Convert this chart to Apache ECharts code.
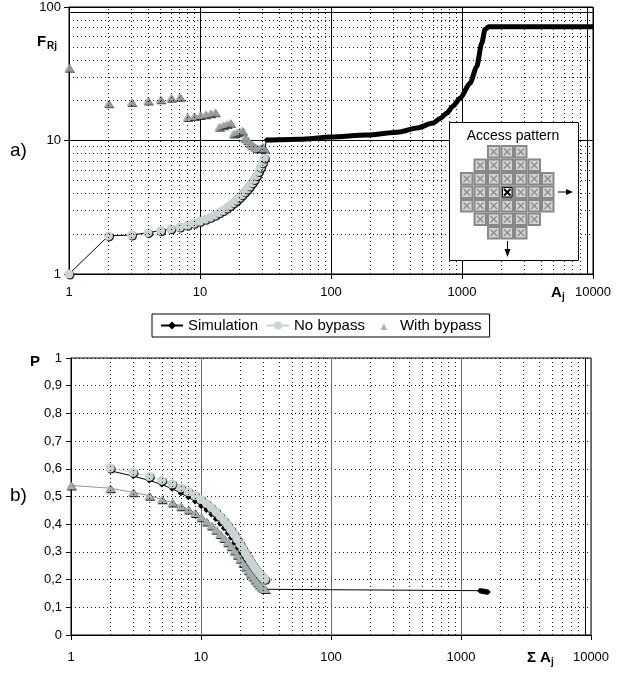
<!DOCTYPE html>
<html><head><meta charset="utf-8">
<script src="https://cdn.jsdelivr.net/npm/echarts@6/dist/echarts.min.js"></script>
<style>html,body{margin:0;padding:0;background:#fff}#c{width:619px;height:673px}</style>
</head><body><div id="c"></div>
<script>
// ---------- data ----------
const jIdx = [1,2,3,4,5,6,7,8,9,10,11,12,13,14,15,16,17,18,19,20,21,22,23,24,25,26,27,28,29,30,31];
// top chart: F_Rj vs A_j
const frSimLow = [1,1.93,1.96,2.04,2.11,2.18,2.25,2.32,2.4,2.5,2.61,2.72,2.84,2.97,3.11,3.26,3.42,3.59,3.77,3.96,4.17,4.39,4.63,4.89,5.17,5.48,5.83,6.23,6.7,7.2,7.8];
const aSimHigh = [32,40,58,100,187,336,450,600,680,764,850,966,1151,1295,1414,1500,1600,3000,10000];
const frSimHigh = [10.1,10.15,10.2,10.6,11.0,11.6,12.4,13.5,14.6,16.0,18.0,20.7,26.8,35.7,53.5,68,71,71,71];
const frNoBypass = [1,1.93,1.96,2.04,2.11,2.18,2.25,2.32,2.4,2.48,2.57,2.66,2.76,2.87,2.99,3.12,3.26,3.41,3.57,3.74,3.92,4.12,4.33,4.56,4.81,5.1,5.45,5.85,6.3,6.8,7.4];
const frWithBypass = [35,19.0,19.4,19.9,20.4,20.9,21.3,15.0,15.25,15.5,15.75,16.0,16.3,12.7,13.0,13.3,13.6,11.3,11.5,11.7,11.9,10.5,10.1,9.6,9.25,9.0,8.8,8.7,8.8,9.0,8.7];
// bottom chart: P vs sum A_j
const sumASim = [2,3,4,5,6,7,8,9,10,11,12,13,14,15,16,17,18,19,20,21,22,23,24,25,26,27,28,29,30,31,1400,1430,1460,1490,1520,1550,1580,1610];
const pSim = [0.593,0.574,0.558,0.543,0.528,0.512,0.497,0.482,0.466,0.451,0.435,0.419,0.402,0.385,0.368,0.351,0.333,0.315,0.297,0.28,0.263,0.247,0.232,0.218,0.205,0.194,0.185,0.177,0.17,0.165,0.160,0.159,0.158,0.157,0.157,0.156,0.155,0.155];
const sumANoBypass = [2,3,4,5,6,7,8,9,10,11,12,13,14,15,16,17,18,19,20,21,22,23,24,25,26,27,28,29,30,31];
const pNoBypass = [0.603,0.587,0.572,0.558,0.545,0.531,0.517,0.503,0.489,0.475,0.46,0.445,0.429,0.413,0.397,0.38,0.363,0.346,0.328,0.311,0.295,0.28,0.266,0.253,0.241,0.231,0.222,0.214,0.207,0.201];
const pWithBypass = [0.54,0.53,0.515,0.503,0.49,0.478,0.465,0.453,0.44,0.425,0.41,0.395,0.38,0.365,0.35,0.335,0.32,0.305,0.29,0.275,0.26,0.247,0.234,0.222,0.211,0.2,0.19,0.182,0.175,0.17,0.166];
const xTickLabels = ['1','10','100','1000','10000'];
const topYTickLabels = ['1','10','100'];
// dotted minor gridlines
const minorX = [2,3,4,5,6,7,8,9,20,30,40,50,60,70,80,90,200,300,400,500,600,700,800,900,2000,3000,4000,5000,6000,7000,8000];
const minorYTop = [2,3,4,5,6,7,8,9,20,30,40,50,60,70,80];
const extraTopY = 92, extraRightX = 9000;
// access pattern inset: [first col, last col] per row
const insetRows = [[2,4],[1,5],[0,6],[0,6],[0,6],[1,5],[2,4]];
const insetCenter = [3,3];

const zip = (xs, ys) => xs.map((x,i)=>[x, ys[i]]);
const FONT = 'Liberation Sans, Arial, sans-serif';
const dottedStyle = {color:'#000', width:1, type:[1,3], opacity:0.9};
const solidStyle = {color:'#000', width:1, type:'solid'};

function logAxis(gi, labelMargin){
  return {
    type:'log', logBase:10, min:1, max:10000, gridIndex:gi,
    axisLine:{show:true, onZero:false, lineStyle:{color:'#000', width:1}},
    axisTick:{show:true, inside:false, length:5, lineStyle:{color:'#000'}},
    axisLabel:{color:'#000', fontFamily:FONT, fontSize:13, margin:labelMargin,
      formatter:v=>{const i=Math.round(Math.log10(v)); return xTickLabels[i]||'';}},
    splitLine:{show:true, lineStyle:{color:gi===0?'#000':'#666', width:1}},
    minorTick:{show:false}, minorSplitLine:{show:false}
  };
}

const shadowItem = (c)=>({color:c, shadowColor:'rgba(0,0,0,0.85)', shadowOffsetX:1, shadowOffsetY:1, shadowBlur:0});

// inset graphic
const ZI = 200;
const insetEls = [];
const cs = 13.5, ix0 = 460, iy0 = 145;
insetEls.push({type:'rect', z:ZI, shape:{x:449.5,y:122.5,width:129,height:138}, style:{fill:'#fff', stroke:'#000', lineWidth:1}});
insetEls.push({type:'text', z:ZI, style:{x:513, y:136, text:'Access pattern', fill:'#000', font:'14px '+FONT, align:'center', verticalAlign:'middle'}});
insetRows.forEach((r,ri)=>{
  for(let ci=r[0]; ci<=r[1]; ci++){
    const x = ix0+ci*cs, y = iy0+ri*cs;
    const isC = ri===insetCenter[0] && ci===insetCenter[1];
    insetEls.push({type:'rect', z:ZI, shape:{x:x,y:y,width:cs,height:cs}, style:{fill:'#888'}});
    insetEls.push({type:'rect', z:ZI, shape:{x:x+2,y:y+2,width:cs-4,height:cs-4}, style:{fill:isC?'#fff':'#d4d4d4', stroke:isC?'#000':null, lineWidth:1}});
    const sc = isC?'#000':'#8a8a8a', lw = isC?2:1.3;
    insetEls.push({type:'line', z:ZI, shape:{x1:x+3.5,y1:y+3.5,x2:x+cs-3.5,y2:y+cs-3.5}, style:{stroke:sc, lineWidth:lw}});
    insetEls.push({type:'line', z:ZI, shape:{x1:x+cs-3.5,y1:y+3.5,x2:x+3.5,y2:y+cs-3.5}, style:{stroke:sc, lineWidth:lw}});
  }
});
insetEls.push({type:'line', z:ZI, shape:{x1:558,y1:192,x2:569,y2:192}, style:{stroke:'#000', lineWidth:1}});
insetEls.push({type:'polygon', z:ZI, shape:{points:[[566,189],[573,192],[566,195]]}, style:{fill:'#000'}});
insetEls.push({type:'line', z:ZI, shape:{x1:507.5,y1:241,x2:507.5,y2:251}, style:{stroke:'#000', lineWidth:1}});
insetEls.push({type:'polygon', z:ZI, shape:{points:[[504.5,249],[507.5,257],[510.5,249]]}, style:{fill:'#000'}});

const txt = (x,y,t,size,bold,align)=>({type:'text', z:ZI, style:{x:x,y:y,text:t,fill:'#000', font:(bold?'bold ':'')+size+'px '+FONT, align:align||'left', verticalAlign:'middle'}});

const topGridLines = minorX.map(v=>({xAxis:v, lineStyle:dottedStyle}))
  .concat(minorYTop.map(v=>({yAxis:v, lineStyle:dottedStyle})))
  .concat([{yAxis:extraTopY, lineStyle:solidStyle},{xAxis:extraRightX, lineStyle:solidStyle}]);
const botGridLines = minorX.map(v=>({xAxis:v, lineStyle:dottedStyle}))
  .concat([{xAxis:extraRightX, lineStyle:solidStyle}]);

const smallTriangle = 'path://M0,0L0.01,0L0.01,0.01ZM22,10L22.01,10L22.01,9.99ZM11,3L14.5,9.5L7.5,9.5Z';

const chart = echarts.init(document.getElementById('c'), null, {renderer:'canvas'});
chart.setOption({
  animation:false,
  backgroundColor:'#fff',
  textStyle:{fontFamily:FONT},
  grid:[
    {left:69, right:26, top:7, height:267, show:true, borderColor:'#000', borderWidth:1, backgroundColor:'transparent'},
    {left:71, right:28, top:358, height:277, show:true, borderColor:'#000', borderWidth:1, backgroundColor:'transparent'}
  ],
  legend:{
    left:152, top:314, orient:'horizontal',
    data:['Simulation','No bypass',{name:'With bypass', icon:smallTriangle, itemStyle:{color:'#a9b4b4'}}],
    borderColor:'#000', borderWidth:1, padding:[4,8], itemGap:8, itemWidth:22, itemHeight:10,
    textStyle:{fontFamily:FONT, fontSize:15, color:'#000'}
  },
  xAxis:[ logAxis(0,12), logAxis(1,16) ],
  yAxis:[
    {type:'log', logBase:10, min:1, max:100, gridIndex:0,
      axisLine:{show:true, onZero:false, lineStyle:{color:'#000'}},
      axisTick:{show:true, length:5, lineStyle:{color:'#000'}},
      axisLabel:{color:'#000', fontFamily:FONT, fontSize:13, margin:8,
        formatter:v=>{const i=Math.round(Math.log10(v)); return topYTickLabels[i]||'';}},
      splitLine:{show:true, lineStyle:{color:'#000', width:1}},
      minorTick:{show:false}, minorSplitLine:{show:false}},
    {type:'value', min:0, max:1, interval:0.1, gridIndex:1,
      axisLine:{show:true, onZero:false, lineStyle:{color:'#000'}},
      axisTick:{show:true, length:5, lineStyle:{color:'#000'}},
      axisLabel:{color:'#000', fontFamily:FONT, fontSize:13, margin:9,
        formatter:v=>String(Math.round(v*10)/10).replace('.',',')},
      splitLine:{show:true, lineStyle:dottedStyle}}
  ],
  series:[
    // grid helpers
    {name:'gridTop', type:'line', xAxisIndex:0, yAxisIndex:0, data:[[1,1]], symbol:'none', lineStyle:{width:0}, z:1, silent:true,
      markLine:{silent:true, symbol:'none', label:{show:false}, animation:false, data:topGridLines}},
    {name:'gridBot', type:'line', xAxisIndex:1, yAxisIndex:1, data:[[1,0]], symbol:'none', lineStyle:{width:0}, z:1, silent:true,
      markLine:{silent:true, symbol:'none', label:{show:false}, animation:false, data:botGridLines}},
    // ---- bottom chart (listed first so the legend icons follow it) ----
    {name:'Simulation', type:'line', xAxisIndex:1, yAxisIndex:1, data:zip(sumASim, pSim),
      symbol:'diamond', symbolSize:6, lineStyle:{color:'#000', width:1}, itemStyle:{color:'#000'}, z:2},
    {name:'No bypass', type:'line', xAxisIndex:1, yAxisIndex:1, data:zip(sumANoBypass, pNoBypass),
      symbol:'circle', symbolSize:9, lineStyle:{color:'#c5d0d0', width:1}, itemStyle:shadowItem('#c9d4d4'), z:3},
    {name:'With bypass', type:'line', xAxisIndex:1, yAxisIndex:1, data:zip(jIdx, pWithBypass),
      symbol:'triangle', symbolSize:[10,8], lineStyle:{color:'#8e9999', width:1}, itemStyle:shadowItem('#a2adad'), z:4},
    // ---- top chart ----
    {name:'No bypass', type:'line', xAxisIndex:0, yAxisIndex:0, data:zip(jIdx, frNoBypass),
      symbol:'circle', symbolSize:9, lineStyle:{color:'#c5d0d0', width:1, opacity:0}, itemStyle:shadowItem('#c9d4d4'), z:3},
    {name:'Simulation', type:'line', xAxisIndex:0, yAxisIndex:0, data:zip(jIdx, frSimLow).concat([[aSimHigh[0], frSimHigh[0]]]),
      symbol:'diamond', symbolSize:5, showSymbol:true, lineStyle:{color:'#000', width:1}, itemStyle:{color:'#000'}, z:2},
    {name:'Simulation', type:'line', xAxisIndex:0, yAxisIndex:0, data:zip(aSimHigh, frSimHigh),
      symbol:'none', smooth:0.25, smoothMonotone:'x', lineStyle:{color:'#000', width:5}, itemStyle:{color:'#000'}, z:2},
    {name:'With bypass', type:'scatter', xAxisIndex:0, yAxisIndex:0, data:zip(jIdx, frWithBypass),
      symbol:'triangle', symbolSize:[10,8], itemStyle:shadowItem('#a2adad'), z:4}
  ],
  graphic:insetEls.concat([
    txt(37,42,'F',15,true), txt(47,46,'Rj',10,true),
    txt(10,151,'a)',19,false),
    txt(551,293,'A',15,true), txt(562,297,'j',10,true),
    txt(30,362,'P',15,true),
    txt(10,496,'b)',19,false),
    txt(527,658,'Σ',15,true), txt(540,658,'A',15,true), txt(551,662,'j',10,true)
  ])
});
</script></body></html>
